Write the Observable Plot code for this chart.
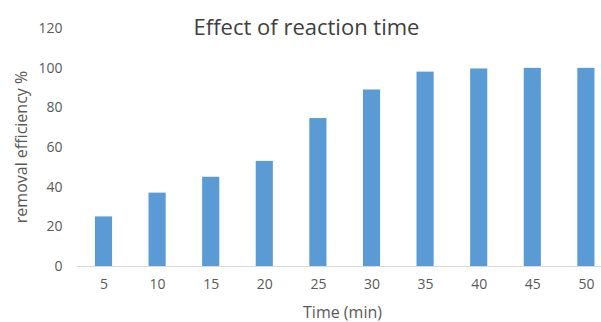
<!DOCTYPE html>
<html>
<head>
<meta charset="utf-8">
<script src="https://cdn.jsdelivr.net/npm/d3@7"></script>
<script src="https://cdn.jsdelivr.net/npm/@observablehq/plot@0.6"></script>
<style>
  html, body { margin: 0; padding: 0; background: #fff; overflow: hidden; }
  #chart svg { display: block; }
</style>
</head>
<body>
<div id="chart"></div>
<script>
const times = [5, 10, 15, 20, 25, 30, 35, 40, 45, 50];
const efficiency = [25, 37, 45, 53, 74.6, 89, 98, 99.6, 99.9, 99.9];
const yTicks = [0, 20, 40, 60, 80, 100, 120];
const title = "Effect of reaction time";
const xLabel = "Time (min)";
const yLabel = "removal efficiency %";

const data = times.map((t, i) => ({time: t, eff: efficiency[i]}));

const font = "'Open Sans', 'Noto Sans', sans-serif";

const chart = Plot.plot({
  width: 601,
  height: 322,
  marginLeft: 77,
  marginRight: 0,
  marginTop: 28,
  marginBottom: 56,
  style: {fontFamily: font, background: "#fff", overflow: "hidden"},
  x: {domain: times, range: [76.7, 612.7], paddingInner: 0.68, paddingOuter: 0.34, round: false},
  y: {domain: [0, 120]},
  marks: [
    Plot.barY(data, {x: "time", y: "eff", fill: "#5b9bd5"}),
    Plot.ruleY([0], {stroke: "#d9d9d9", strokeWidth: 1}),
    Plot.axisY({ticks: yTicks, tickSize: 0, tickPadding: 15, label: null,
      fill: "#595959", fontSize: 14}),
    Plot.axisX({tickSize: 0, tickPadding: 13, label: null,
      fill: "#595959", fontSize: 14}),
    Plot.text([title], {frameAnchor: "top", text: d => d, dx: -33, dy: -1,
      lineAnchor: "middle", fontSize: 22, fill: "#404040"}),
    Plot.text([xLabel], {frameAnchor: "bottom", text: d => d, dx: 3, dy: 46,
      lineAnchor: "middle", fontSize: 16, fill: "#595959"}),
    Plot.text([yLabel], {frameAnchor: "left", text: d => d, dx: -56, dy: -0.5,
      rotate: -90, textAnchor: "middle", lineAnchor: "middle", fontSize: 16, fill: "#595959"})
  ]
});
document.getElementById("chart").append(chart);
</script>
</body>
</html>
